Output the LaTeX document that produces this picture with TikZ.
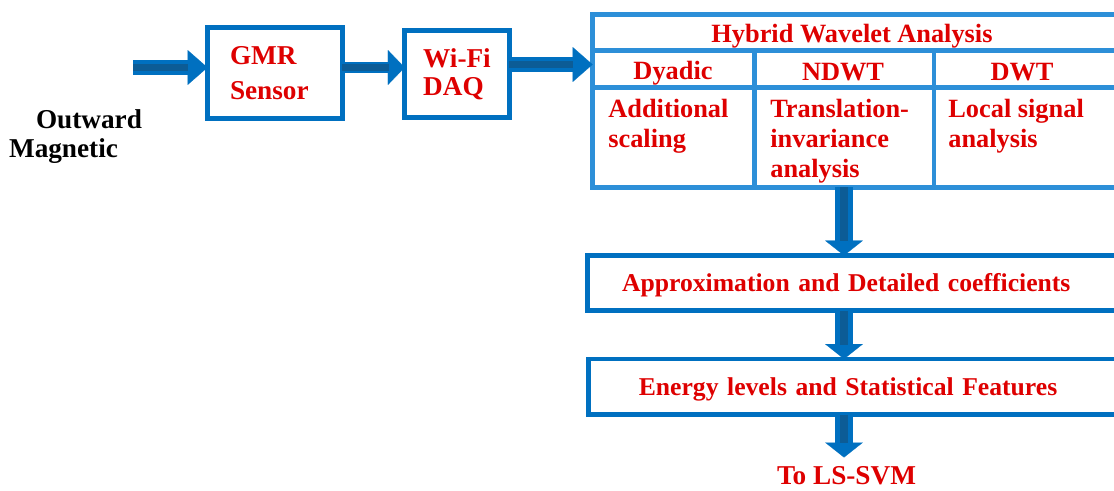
\documentclass[tikz,border=0pt]{standalone}
\usepackage{fontspec}
\setmainfont{Liberation Serif}
\usetikzlibrary{arrows.meta}
\usetikzlibrary{calc}
\usetikzlibrary{positioning}

\definecolor{boxblue}{RGB}{0,112,192}
\definecolor{tableblue}{RGB}{45,143,216}
\definecolor{coreblue}{RGB}{12,92,150}
\definecolor{textred}{RGB}{222,0,0}

\tikzset{
    block/.style={draw=boxblue, line width=2.8pt, fill=white, inner ysep=0pt, outer sep=0pt,
        align=left, text=textred, font=\fontsize{15.5}{20}\selectfont\bfseries},
    wide/.style={draw=boxblue, line width=2.8pt, inner ysep=0pt, outer sep=0pt,
        text height=10.2pt, text depth=0pt,
        align=left, text=textred, font=\fontsize{14.6}{18}\selectfont\bfseries},
    tableline/.style={draw=tableblue, line width=2.6pt},
    cell/.style={inner sep=0pt, align=left, text=textred, font=\fontsize{15}{17.1}\selectfont\bfseries},
    fat/.style={draw=boxblue, line width=8.5pt, -{Triangle[length=11.3pt,width=19.8pt,line width=0.1pt]}},
    thin fat/.style={draw=boxblue, line width=5.7pt, -{Triangle[length=9.6pt,width=19.8pt,line width=0.1pt]}},
    down/.style={draw=boxblue, line width=10.2pt, -{Triangle[length=8.5pt,width=21.5pt,line width=0.1pt]}},
    core/.style={draw=coreblue, line width=4.5pt}
}

\begin{document}
\begin{tikzpicture}[x=0.02cm, y=-0.02cm]

    \useasboundingbox (0,0) rectangle (1114,490);

    \coordinate (in) at (133,67.5);
    \coordinate (feed) at (0,64.5);
    \coordinate (drop) at (844,0);

    \node[black, inner sep=0pt, font=\fontsize{15.5}{18}\selectfont\bfseries] (outward) at (89,119) {Outward};
    \node[black, inner sep=0pt, font=\fontsize{15.5}{18}\selectfont\bfseries] (magnetic) at (63.5,151) {Magnetic};

    \node[block, inner xsep=0.45cm, text width=1.8cm, minimum height=1.82cm] (gmr) at (275,73) {GMR\\Sensor};
    \node[block, font=\fontsize{15.5}{16}\selectfont\bfseries, minimum width=2.09cm, minimum height=1.73cm] (daq) at (457,74) {Wi-Fi\\DAQ};

    \draw[fat] (in) -- (in -| gmr.west);
    \draw[core, shorten >=11pt] (in) -- (in -| gmr.west);
    \draw[thin fat] (in -| gmr.east) -- (in -| daq.west);
    \draw[core, line width=3.5pt, shorten >=9pt] (in -| gmr.east) -- (in -| daq.west);

    \node[draw=tableblue, line width=2.8pt, minimum width=10.74cm, minimum height=3.46cm,
        inner sep=0pt, outer sep=0pt] (hwa) at (861,101) {};
    \draw[tableline] (592.5,50.5) -- (1130,50.5);
    \draw[tableline] (592.5,87.5) -- (1130,87.5);
    \draw[tableline] (754.5,50.5) -- (754.5,187.5);
    \draw[tableline] (934,50.5) -- (934,187.5);

    \draw[fat] (feed -| daq.east) -- (feed -| hwa.west);
    \draw[core, shorten >=11pt] (feed -| daq.east) -- (feed -| hwa.west);

    \node[cell] (title) at (852,36) {Hybrid Wavelet Analysis};
    \node[cell] (dyadic) at (673,73) {Dyadic};
    \node[cell] (ndwt) at (843,72) {NDWT};
    \node[cell] (dwt) at (1022,72) {DWT};
    \node[cell, anchor=north west] (scaling) at (608,99) {Additional\\scaling};
    \node[cell, anchor=north west] (invariance) at (770,99) {Translation-\\invariance\\analysis};
    \node[cell, anchor=north west] (local) at (948,99) {Local signal\\analysis};

    \node[wide, inner xsep=0.69cm, text width=9.47cm, minimum height=1.1cm] (approx) at (858.75,283) {Approximation and Detailed coefficients};
    \node[wide, inner xsep=1.0cm, text width=8.85cm, minimum height=1.11cm] (energy) at (860,386.75) {Energy levels and Statistical Features};
    \node[text=textred, inner sep=0pt, font=\fontsize{15.5}{18}\selectfont\bfseries] (svm) at (846.5,476) {To LS-SVM};

    \draw[down] (hwa.south -| drop) -- (approx.north -| drop);
    \draw[core, shorten >=8pt] (hwa.south -| drop) -- (approx.north -| drop);
    \draw[down] (approx.south -| drop) -- (energy.north -| drop);
    \draw[core, shorten >=8pt] (approx.south -| drop) -- (energy.north -| drop);
    \draw[down] (energy.south -| drop) -- ([yshift=0.18cm]svm.north -| drop);
    \draw[core, shorten >=8pt] (energy.south -| drop) -- ([yshift=0.18cm]svm.north -| drop);

\end{tikzpicture}
\end{document}
